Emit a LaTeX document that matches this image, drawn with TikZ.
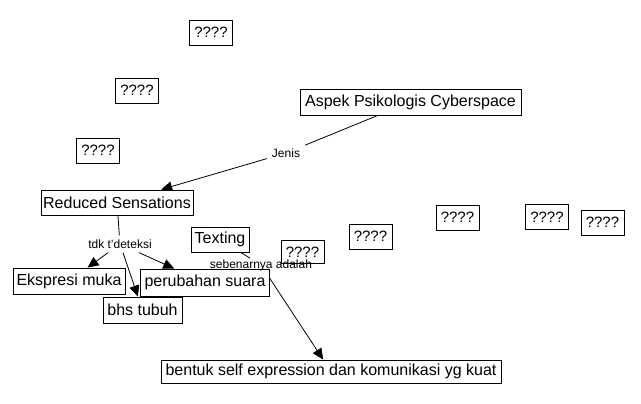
\documentclass[tikz,border=0pt]{standalone}
\usepackage{fontspec}
\setmainfont{Liberation Sans}
\usetikzlibrary{arrows.meta,backgrounds}
\begin{document}
\begin{tikzpicture}[x=1pt,y=-1pt,
  box/.style={draw=black,fill=white,line width=0.9pt,inner sep=0pt,align=center,
    font=\fontsize{16}{18}\selectfont},
  qbox/.style={box,minimum width=43pt,minimum height=25pt,font=\fontsize{15}{17}\selectfont},
  lab/.style={inner xsep=5pt,inner ysep=4pt,font=\fontsize{12}{14}\selectfont},
  conn/.style={line width=0.8pt},
  arr/.style={conn,-{Triangle[length=11pt,width=10pt]}}]
\useasboundingbox (0,0) rectangle (641,404);
\node[qbox] (q1) at (211,32.5) {????};
\node[qbox] (q2) at (137,90.5) {????};
\node[qbox] (q3) at (98,150.5) {????};
\node[box,minimum width=221pt,minimum height=26pt] (aspek) at (410.5,102) {Aspek Psikologis Cyberspace};
\node[box,minimum width=152pt,minimum height=25pt] (reduced) at (117,202.5) {Reduced Sensations};
\node[box,minimum width=58pt,minimum height=25pt] (texting) at (220,239.5) {Texting};
\node[qbox,minimum height=23pt] (q4) at (302.5,252) {????};
\node[qbox] (q5) at (370.5,236.5) {????};
\node[qbox] (q6) at (457.5,217.5) {????};
\node[qbox] (q7) at (547,217) {????};
\node[qbox] (q8) at (602.5,222.5) {????};
\node[box,minimum width=112pt,minimum height=26pt] (ekspresi) at (69,281) {Ekspresi muka};
\node[box,minimum width=129pt,minimum height=27pt] (perubahan) at (205,282.5) {perubahan suara};
\node[box,minimum width=79pt,minimum height=26pt] (bhs) at (142.5,310) {bhs tubuh};
\node[box,minimum width=340pt,minimum height=23pt] (bentuk) at (331,371.5) {bentuk self expression dan komunikasi yg kuat};
\node[lab] (jenis) at (286,153) {Jenis};
\node[lab] (tdk) at (120,244) {tdk t'deteksi};
\node[lab,inner ysep=1pt] (seb) at (261,265) {sebenarnya adalah};
\begin{scope}[on background layer]
\draw[conn] (aspek) -- (jenis);
\draw[arr] (jenis) -- (reduced);
\draw[conn] (reduced) -- (tdk);
\draw[arr] (tdk) -- (ekspresi);
\draw[arr] (tdk) -- (bhs);
\draw[arr] (tdk) -- (perubahan);
\draw[conn] (texting) -- (seb);
\draw[arr] (seb) -- (bentuk);
\end{scope}
\end{tikzpicture}
\end{document}
